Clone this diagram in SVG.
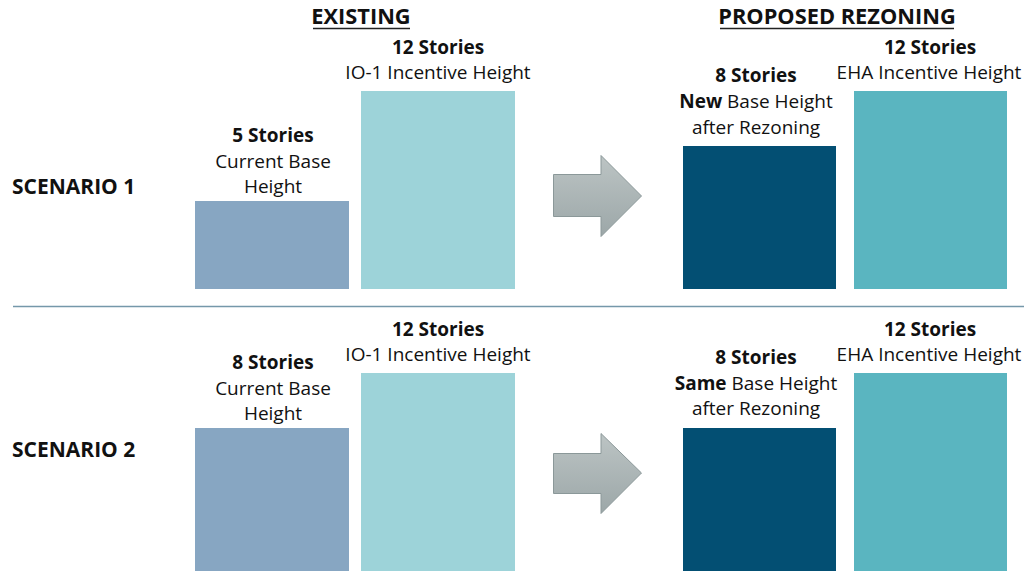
<svg xmlns="http://www.w3.org/2000/svg" width="1024" height="571" viewBox="0 0 1024 571">
<style>
text{font-family:"Open Sans","Liberation Sans",sans-serif;fill:#111;text-anchor:middle}
.h{font-size:21.8px;font-weight:700}
.sc{font-size:21px;font-weight:700;text-anchor:start}
.b{font-size:19px;font-weight:700}
.n{font-size:19px;font-weight:400}
.ul{stroke:#222;stroke-width:1.6}
.c1{fill:#87a6c2}
.c2{fill:#9dd3d9}
.c3{fill:#034f73}
.c4{fill:#5ab5c0}
.arr{fill:url(#ag);stroke:#8b9899;stroke-width:1}
</style>
<defs>
<linearGradient id="ag" x1="0" y1="0" x2="0" y2="1">
<stop offset="0" stop-color="#bcc4c4"/>
<stop offset="1" stop-color="#9ca7a8"/>
</linearGradient>
</defs>
<rect width="1024" height="571" fill="#fff"/>
<g id="headers">
<text class="h" x="361" y="24">EXISTING</text>
<line class="ul" x1="313" y1="28.5" x2="410" y2="28.5"/>
<text class="h" x="837" y="24">PROPOSED REZONING</text>
<line class="ul" x1="720" y1="28.5" x2="954" y2="28.5"/>
</g>
<line id="divider" x1="13" y1="306.5" x2="1024" y2="306.5" stroke="#7598aa" stroke-width="1.6"/>
<g id="scenario1">
<text class="sc" x="12" y="194">SCENARIO 1</text>
<g id="s1-existing-base">
<rect class="c1" x="195" y="201" width="154" height="88"/>
<text class="b" x="273" y="142">5 Stories</text>
<text class="n" x="273" y="168">Current Base</text>
<text class="n" x="273" y="193">Height</text>
</g>
<g id="s1-existing-incentive">
<rect class="c2" x="361" y="91" width="154" height="198"/>
<text class="b" x="438" y="54">12 Stories</text>
<text class="n" x="438" y="79">IO-1 Incentive Height</text>
</g>
<g id="s1-arrow">
<path class="arr" d="M553.5 174.5H601V155.5L641.5 196L601 236.5V216.5H553.5Z"/>
</g>
<g id="s1-proposed-base">
<rect class="c3" x="683" y="146" width="153" height="143"/>
<text class="b" x="756" y="82">8 Stories</text>
<text class="n" x="756" y="108"><tspan font-weight="700">New</tspan> Base Height</text>
<text class="n" x="756" y="134">after Rezoning</text>
</g>
<g id="s1-proposed-incentive">
<rect class="c4" x="854" y="91" width="153" height="198"/>
<text class="b" x="930" y="54">12 Stories</text>
<text class="n" x="929" y="79">EHA Incentive Height</text>
</g>
</g>
<g id="scenario2">
<text class="sc" x="12" y="457">SCENARIO 2</text>
<g id="s2-existing-base">
<rect class="c1" x="195" y="428" width="154" height="143"/>
<text class="b" x="273" y="369">8 Stories</text>
<text class="n" x="273" y="395">Current Base</text>
<text class="n" x="273" y="420">Height</text>
</g>
<g id="s2-existing-incentive">
<rect class="c2" x="361" y="373" width="154" height="198"/>
<text class="b" x="438" y="336">12 Stories</text>
<text class="n" x="438" y="361">IO-1 Incentive Height</text>
</g>
<g id="s2-arrow">
<path class="arr" d="M553.5 453.5H601V433.5L641.5 473L601 513.5V493.5H553.5Z"/>
</g>
<g id="s2-proposed-base">
<rect class="c3" x="683" y="428" width="153" height="143"/>
<text class="b" x="756" y="364">8 Stories</text>
<text class="n" x="756" y="390"><tspan font-weight="700">Same</tspan> Base Height</text>
<text class="n" x="756" y="415">after Rezoning</text>
</g>
<g id="s2-proposed-incentive">
<rect class="c4" x="854" y="373" width="153" height="198"/>
<text class="b" x="930" y="336">12 Stories</text>
<text class="n" x="929" y="361">EHA Incentive Height</text>
</g>
</g>
</svg>
